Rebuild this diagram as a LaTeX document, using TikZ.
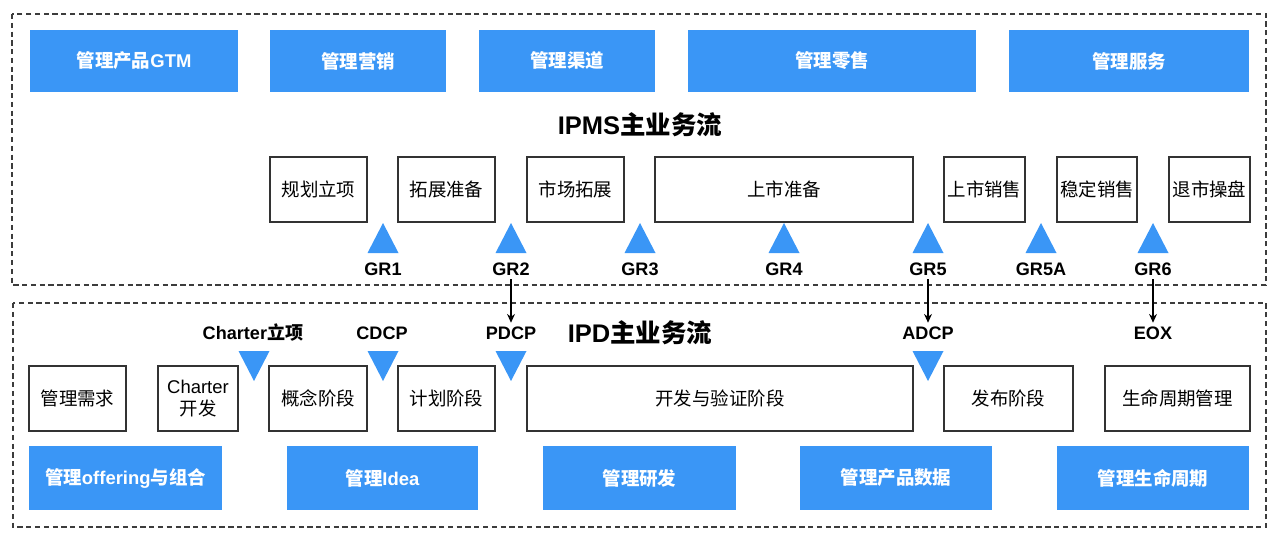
\documentclass[tikz,border=0pt]{standalone}
\usepackage{fontspec}
\setmainfont{Liberation Sans}
\newfontfamily\zhfont{Noto Sans CJK SC}
\newcommand\zh[1]{{\zhfont #1}}
\usepackage{tikz}
\usetikzlibrary{arrows.meta, positioning, calc}
\definecolor{ipdblue}{RGB}{58,150,246}
\definecolor{framegray}{RGB}{60,60,60}

\begin{document}
\begin{tikzpicture}[
    x=0.02cm, y=-0.02cm,
    >={Stealth[length=5pt, width=4.5pt]},
    mgmt/.style={rectangle, fill=ipdblue, text=white, inner sep=0pt,
        font=\fontsize{10.5pt}{12pt}\selectfont\bfseries},
    phase/.style={rectangle, draw=black!80, line width=0.7pt, fill=white, inner sep=0pt,
        minimum height=1.3cm, align=center, font=\fontsize{10.5pt}{12.5pt}\selectfont},
    gate/.style={font=\fontsize{10.3pt}{12pt}\selectfont\bfseries, inner sep=1pt},
    title/.style={font=\fontsize{14.5pt}{16pt}\selectfont\bfseries},
    frame/.style={draw=framegray, line width=0.7pt, dash pattern=on 3pt off 2pt},
    handover/.style={draw=black, line width=0.6pt, ->, shorten <=1pt, shorten >=1pt},
    gate up/.pic={\fill[ipdblue] (-15.5,15) -- (15.5,15) -- (0,-15) -- cycle;},
    gate down/.pic={\fill[ipdblue] (-15.5,-15) -- (15.5,-15) -- (0,15) -- cycle;}
]
    \useasboundingbox (0,0) rectangle (1280,541);

    % Dashed containers
    \draw[frame] (12,14) rectangle (1266,285);
    \draw[frame] (13,303) rectangle (1266,527);

    % IPMS management domains
    \node[mgmt, minimum width=4.16cm, minimum height=1.24cm] (gtm) at (134,61) {\zh{管理产品}GTM};
    \node[mgmt, minimum width=3.52cm, minimum height=1.24cm] (yingxiao) at (358,61) {\zh{管理营销}};
    \node[mgmt, minimum width=3.52cm, minimum height=1.24cm] (qudao) at (567,61) {\zh{管理渠道}};
    \node[mgmt, minimum width=5.76cm, minimum height=1.24cm] (lingshou) at (832,61) {\zh{管理零售}};
    \node[mgmt, minimum width=4.80cm, minimum height=1.24cm] (fuwu) at (1129,61) {\zh{管理服务}};

    \node[title] (ipms) at (640,125) {IPMS\zh{主业务流}};

    % IPMS phases
    \node[phase, minimum width=1.94cm] (guihua) at (318.5,189.5) {\zh{规划立项}};
    \node[phase, minimum width=1.94cm] (tuozhan) at (446.5,189.5) {\zh{拓展准备}};
    \node[phase, minimum width=1.94cm] (shichang) at (575.5,189.5) {\zh{市场拓展}};
    \node[phase, minimum width=5.16cm] (zhunbei) at (784,189.5) {\zh{上市准备}};
    \node[phase, minimum width=1.62cm] (xiaoshou) at (984.5,189.5) {\zh{上市销售}};
    \node[phase, minimum width=1.60cm] (wending) at (1097,189.5) {\zh{稳定销售}};
    \node[phase, minimum width=1.62cm] (tuishi) at (1209.5,189.5) {\zh{退市操盘}};

    % GR gates
    \pic at (383,238) {gate up};
    \pic at (511,238) {gate up};
    \pic at (640,238) {gate up};
    \pic at (784,238) {gate up};
    \pic at (928,238) {gate up};
    \pic at (1041,238) {gate up};
    \pic at (1153,238) {gate up};
    \node[gate] (gr1) at (383,269) {GR1};
    \node[gate] (gr2) at (511,269) {GR2};
    \node[gate] (gr3) at (640,269) {GR3};
    \node[gate] (gr4) at (784,269) {GR4};
    \node[gate] (gr5) at (928,269) {GR5};
    \node[gate] (gr5a) at (1041,269) {GR5A};
    \node[gate] (gr6) at (1153,269) {GR6};

    % IPD decision points
    \node[gate] (charter) at (253,333) {Charter\zh{立项}};
    \node[gate] (cdcp) at (382,333) {CDCP};
    \node[gate] (pdcp) at (511,333) {PDCP};
    \node[title] (ipd) at (640,333) {IPD\zh{主业务流}};
    \node[gate] (adcp) at (928,333) {ADCP};
    \node[gate] (eox) at (1153,333) {EOX};
    \pic at (254,366) {gate down};
    \pic at (383,366) {gate down};
    \pic at (511,366) {gate down};
    \pic at (928,366) {gate down};

    % GR to IPD handover
    \draw[handover] (gr2.south) -- (gr2.south |- pdcp.north);
    \draw[handover] (gr5.south) -- (gr5.south |- adcp.north);
    \draw[handover] (gr6.south) -- (gr6.south |- eox.north);

    % IPD phases
    \node[phase, minimum width=1.94cm] (xuqiu) at (77.5,398.5) {\zh{管理需求}};
    \node[phase, minimum width=1.60cm] (charterdev) at (198,398.5) {Charter\\\zh{开发}};
    \node[phase, minimum width=1.96cm] (gainian) at (318,398.5) {\zh{概念阶段}};
    \node[phase, minimum width=1.94cm] (jihua) at (446.5,398.5) {\zh{计划阶段}};
    \node[phase, minimum width=7.72cm] (kaifa) at (720,398.5) {\zh{开发与验证阶段}};
    \node[phase, minimum width=2.58cm] (fabu) at (1008.5,398.5) {\zh{发布阶段}};
    \node[phase, minimum width=2.90cm] (zhouqimgmt) at (1177.5,398.5) {\zh{生命周期管理}};

    % IPD management domains
    \node[mgmt, minimum width=3.86cm, minimum height=1.28cm] (offering) at (125.5,478) {\zh{管理}offering\zh{与组合}};
    \node[mgmt, minimum width=3.82cm, minimum height=1.28cm] (idea) at (382.5,478) {\zh{管理}Idea};
    \node[mgmt, minimum width=3.86cm, minimum height=1.28cm] (yanfa) at (639.5,478) {\zh{管理研发}};
    \node[mgmt, minimum width=3.84cm, minimum height=1.28cm] (shuju) at (896,478) {\zh{管理产品数据}};
    \node[mgmt, minimum width=3.84cm, minimum height=1.28cm] (zhouqi) at (1153,478) {\zh{管理生命周期}};

\end{tikzpicture}
\end{document}
